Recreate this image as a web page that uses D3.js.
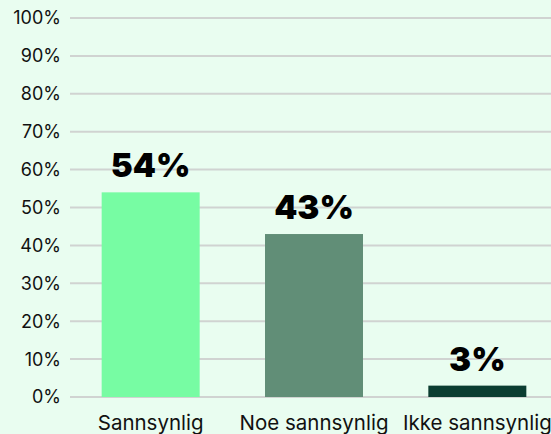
<!DOCTYPE html>
<html>
<head>
<meta charset="utf-8">
<script src="https://cdn.jsdelivr.net/npm/d3@7"></script>
<style>
  html, body { margin: 0; padding: 0; background: #e9fdf0; }
  svg { display: block; }
</style>
</head>
<body>
<svg id="chart" width="551" height="434"></svg>
<script>
// Survey answers and their shares (percent)
const categories = ["Sannsynlig", "Noe sannsynlig", "Ikke sannsynlig"];
const values = [54, 43, 3];
const barColors = ["#77fca3", "#618e77", "#0b3d31"];
const yTicks = [0, 10, 20, 30, 40, 50, 60, 70, 80, 90, 100];

const svg = d3.select("#chart");
const W = 551, H = 434;

svg.append("rect").attr("width", W).attr("height", H).attr("fill", "#e9fdf0");

const y = d3.scaleLinear().domain([0, 100]).range([397, 18]);
const x = d3.scaleBand().domain(categories).range([69, 559])
  .paddingInner(0.4).paddingOuter(0.2);

// Horizontal gridlines with percentage labels
const yAxis = svg.append("g").attr("class", "y-axis");
yAxis.selectAll("line").data(yTicks).join("line")
  .attr("x1", 70).attr("x2", W)
  .attr("y1", d => y(d)).attr("y2", d => y(d))
  .attr("stroke", "#d0d3d1").attr("stroke-width", 2);
yAxis.selectAll("text").data(yTicks).join("text")
  .attr("x", 61).attr("y", d => y(d))
  .attr("dy", "0.36em")
  .attr("text-anchor", "end")
  .attr("font-family", "Inter, 'DejaVu Sans', sans-serif")
  .attr("font-size", 18)
  .attr("fill", "#111")
  .text(d => d + "%");

// Bars
svg.append("g").selectAll("rect").data(values).join("rect")
  .attr("x", (d, i) => x(categories[i]))
  .attr("width", x.bandwidth())
  .attr("y", d => y(d))
  .attr("height", d => y(0) - y(d))
  .attr("fill", (d, i) => barColors[i]);

// Value labels
svg.append("g").selectAll("text").data(values).join("text")
  .attr("x", (d, i) => x(categories[i]) + x.bandwidth() / 2)
  .attr("y", d => y(d) - 15)
  .attr("text-anchor", "middle")
  .attr("font-family", "Inter, 'DejaVu Sans', sans-serif")
  .attr("font-weight", 900)
  .attr("font-size", 33)
  .attr("fill", "#000")
  .text(d => d + "%");

// Category labels
svg.append("g").selectAll("text").data(categories).join("text")
  .attr("x", d => x(d) + x.bandwidth() / 2)
  .attr("y", 430)
  .attr("text-anchor", "middle")
  .attr("font-family", "Inter, 'DejaVu Sans', sans-serif")
  .attr("font-size", 20.5)
  .attr("fill", "#111")
  .text(d => d);
</script>
</body>
</html>
